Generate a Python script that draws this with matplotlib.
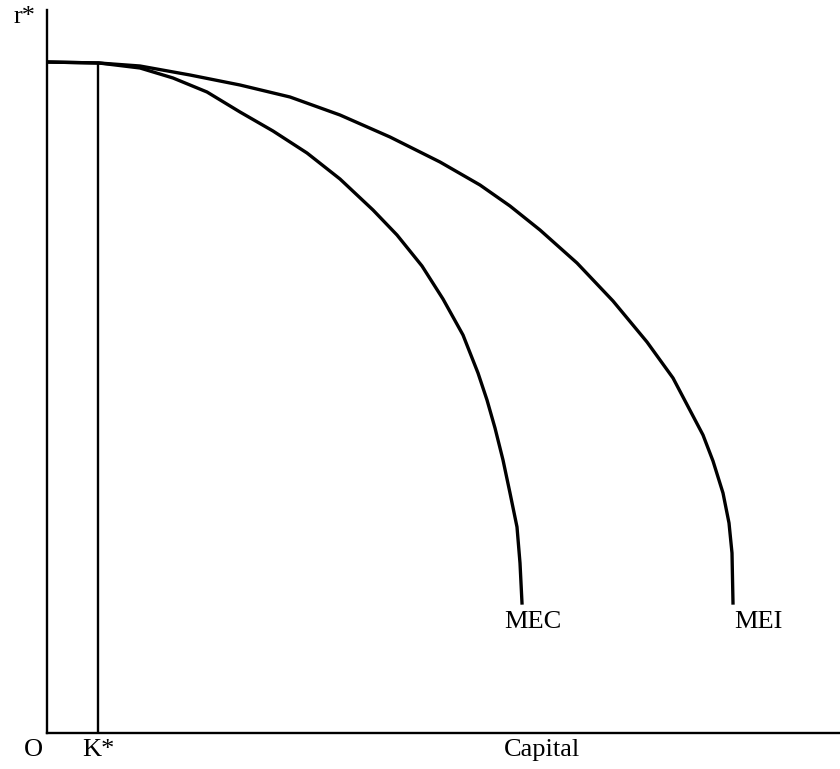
import matplotlib.pyplot as plt

# curve points (origin at the axes corner, pixel-like units)
mec_x = [0, 52, 93, 126, 160, 193, 226, 260, 293, 326, 350, 375, 396, 416, 431,
         440, 448, 456, 463, 470, 473, 475]
mec_y = [671, 670, 665, 655, 641, 621, 602, 580, 554, 523, 498, 467, 434, 398, 360,
         333, 305, 273, 240, 206, 170, 130]

mei_x = [0, 52, 93, 143, 193, 243, 293, 343, 393, 433, 463, 493, 530, 566, 600,
         626, 656, 666, 676, 682, 685, 686]
mei_y = [671, 670, 667, 658, 648, 636, 618, 596, 571, 548, 527, 503, 470, 432, 391,
         355, 298, 272, 240, 210, 180, 130]

k_star = 51
k_top = 670

labels = ["r*", "O", "K*", "Capital", "MEC", "MEI"]
label_x = [-22, -14, 51, 495, 486, 711]
label_y = [716, -17, -17, -17, 111, 111]

fig = plt.figure(figsize=(8.4, 7.69), dpi=100)
ax = fig.add_axes([47 / 840, 36 / 769, 793 / 840, 723 / 769])
ax.set_xlim(0, 793)
ax.set_ylim(0, 723)

ax.plot(mec_x, mec_y, color="black", lw=2.4, solid_joinstyle="round")
ax.plot(mei_x, mei_y, color="black", lw=2.4, solid_joinstyle="round")
ax.plot([k_star, k_star], [0, k_top], color="black", lw=1.7)

for s in ["top", "right"]:
    ax.spines[s].set_visible(False)
for s in ["left", "bottom"]:
    ax.spines[s].set_linewidth(1.7)
ax.set_xticks([])
ax.set_yticks([])

for t, x, y in zip(labels, label_x, label_y):
    ax.text(x, y, t, ha="center", va="center", fontsize=19,
            family="Liberation Serif", clip_on=False)

fig.savefig("out.png", dpi=100)
